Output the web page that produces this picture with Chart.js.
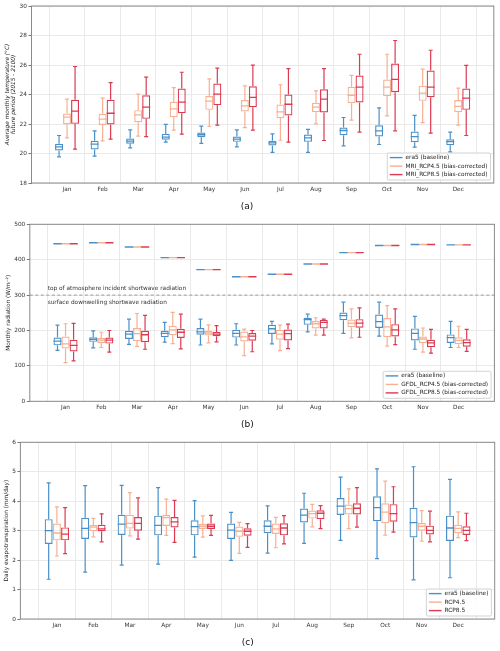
<!DOCTYPE html>
<html>
<head>
<meta charset="utf-8">
<script src="https://cdn.jsdelivr.net/npm/chart.js@4/dist/chart.umd.min.js"></script>
<style>
html,body{margin:0;padding:0;background:#fff;width:500px;height:651px;overflow:hidden;}
canvas{position:absolute;left:0;}
</style>
</head>
<body>
<canvas id="ca" width="500" height="215" style="top:0px"></canvas>
<canvas id="cb" width="500" height="220" style="top:215px"></canvas>
<canvas id="cc" width="500" height="216" style="top:435px"></canvas>
<script>
// ---------------- DATA ----------------
const months = ['Jan','Feb','Mar','Apr','May','Jun','Jul','Aug','Sep','Oct','Nov','Dec'];
// each entry: [lower whisker, Q1, median, Q3, upper whisker]

// (a) average monthly temperature (°C)
const tempEra5 = [
  [19.77,20.20,20.45,20.66,21.22],[19.82,20.27,20.63,20.86,21.54],[20.38,20.66,20.84,21.02,21.60],
  [20.77,20.93,21.11,21.33,21.97],[20.68,21.11,21.27,21.42,21.85],[20.45,20.79,20.97,21.15,21.60],
  [20.07,20.54,20.72,20.86,21.33],[20.07,20.79,21.06,21.29,21.63],[20.52,21.24,21.56,21.76,22.44],
  [20.61,21.15,21.54,21.92,23.10],[20.43,20.77,21.15,21.49,22.58],[20.11,20.56,20.81,20.97,21.45]];
const tempMriRcp45 = [
  [21.06,21.99,22.46,22.71,23.68],[20.86,21.94,22.33,22.69,23.75],[21.18,22.12,22.62,22.94,24.02],
  [21.58,22.46,23.03,23.50,24.47],[21.83,22.96,23.55,23.90,25.06],[21.76,22.85,23.23,23.62,24.59],
  [20.90,22.40,22.82,23.32,24.66],[22.01,22.80,23.14,23.43,24.25],[22.26,23.41,23.95,24.52,25.29],
  [22.55,23.89,24.50,25.02,26.73],[22.10,23.57,24.09,24.59,25.72],[21.92,22.80,23.19,23.62,24.43]];
const tempMriRcp85 = [
  [20.29,22.01,22.87,23.64,25.90],[20.97,21.97,22.73,23.64,24.81],[21.15,22.35,23.14,23.95,25.18],
  [21.31,22.73,23.48,24.41,25.51],[21.92,23.28,24.02,24.75,25.79],[21.58,23.14,23.80,24.56,25.99],
  [20.77,22.58,23.34,24.00,25.76],[20.88,22.78,23.68,24.36,25.76],[21.45,23.46,24.50,25.29,26.73],
  [21.54,24.16,25.02,26.10,27.66],[21.38,23.82,24.50,25.63,27.00],[21.22,22.96,23.75,24.41,25.97]];
const tempTicks = [18,20,22,24,26,28,30];

// (b) monthly radiation (W/m^-2)
const radEra5 = [
  [144,158,170,180,215],[151,168,175,181,199],[161,176,190,199,232],[167,181,192,199,223],
  [159,188,196,207,232],[159,180,192,202,219],[162,190,205,216,226],[196,216,231,236,246],
  [192,229,242,251,280],[184,207,225,245,280],[147,172,192,206,240],[152,165,180,189,226]];
const radGfdlRcp45 = [
  [109,149,162,183,219],[152,165,173,179,195],[155,170,191,207,248],[163,187,202,213,251],
  [165,186,193,199,216],[129,169,182,197,204],[143,174,190,202,215],[187,206,219,227,236],
  [179,209,221,231,261],[156,181,210,235,270],[139,164,176,183,207],[152,161,172,181,212]];
const radGfdlRcp85 = [
  [114,141,158,174,220],[139,163,173,180,200],[147,167,188,199,243],[148,179,195,205,246],
  [168,184,190,196,214],[140,171,184,193,200],[149,172,191,203,218],[187,206,223,230,232],
  [181,208,221,232,264],[160,183,202,218,261],[136,153,165,174,203],[141,154,166,175,203]];
const toaRadiation = [445,448,436,406,372,352,359,388,420,440,443,442];
const radSplitLevel = 300;
const radTicks = [0,100,200,300,400,500];

// (c) daily evapotranspiration (mm/day)
const etEra5 = [
  [1.35,2.55,3.00,3.39,4.62],[1.59,2.72,3.08,3.44,4.53],[1.83,2.85,3.22,3.54,4.54],
  [1.86,2.84,3.18,3.51,4.46],[2.10,2.84,3.14,3.35,4.02],[1.99,2.72,3.02,3.24,3.62],
  [2.24,2.91,3.15,3.35,3.84],[2.57,3.28,3.53,3.75,4.27],[2.67,3.53,3.83,4.11,4.82],
  [2.05,3.32,3.78,4.17,5.10],[1.33,2.77,3.27,3.78,5.17],[1.40,2.65,3.09,3.51,4.74]];
const etRcp45 = [
  [2.14,2.67,2.92,3.24,3.81],[2.79,2.98,3.12,3.19,3.42],[2.82,3.07,3.25,3.54,4.29],
  [2.84,3.16,3.44,3.53,4.07],[2.78,3.06,3.15,3.23,3.50],[2.23,2.79,2.98,3.14,3.28],
  [2.42,2.89,3.06,3.24,3.45],[3.13,3.41,3.58,3.68,3.89],[3.07,3.55,3.75,3.89,4.42],
  [2.85,3.25,3.63,3.93,4.68],[2.64,3.00,3.15,3.26,3.68],[2.76,2.91,3.08,3.20,3.64]];
const etRcp85 = [
  [2.22,2.67,2.88,3.11,3.78],[2.62,2.98,3.06,3.20,3.57],[2.71,3.00,3.25,3.46,4.11],
  [2.60,3.11,3.30,3.46,4.03],[2.84,3.06,3.15,3.24,3.52],[2.43,2.83,2.98,3.08,3.24],
  [2.55,2.84,3.09,3.25,3.51],[3.07,3.39,3.59,3.69,3.85],[3.12,3.55,3.76,3.93,4.46],
  [2.95,3.30,3.58,3.90,4.49],[2.62,2.87,3.01,3.17,3.66],[2.66,2.85,3.01,3.15,3.59]];
const etTicks = [0,1,2,3,4,5,6];

// ---------------- STYLE ----------------
const FONT = '"DejaVu Sans", "Liberation Sans", sans-serif';
const COLORS = ['#4a90c8', '#f7b091', '#dc3a52'];
const OFFSETS = [-0.225, 0, 0.225];
const X_MIN = 0, X_MAX = 13;
const xTickValues = [];
for (let v = X_MIN; v <= X_MAX + 1e-9; v += 0.5) xTickValues.push(Math.round(v * 2) / 2);

function boxDatasets(stats, color, off) {
  const pos = i => i + 1 + off;
  const common = {grouped: false, inflateAmount: 0};
  return [
    Object.assign({type: 'bar', data: stats.map((s, i) => ({x: pos(i), y: [s[0], s[1]]})),
      backgroundColor: color, borderWidth: 0, barThickness: 1.2}, common),
    Object.assign({type: 'bar', data: stats.map((s, i) => ({x: pos(i), y: [s[3], s[4]]})),
      backgroundColor: color, borderWidth: 0, barThickness: 1.2}, common),
    Object.assign({type: 'bar', data: stats.map((s, i) => ({x: pos(i), y: [s[1], s[3]]})),
      backgroundColor: 'rgba(0,0,0,0)', borderColor: color, borderWidth: 1.2,
      borderSkipped: false, barThickness: 8}, common),
    {type: 'scatter', data: stats.map((s, i) => ({x: pos(i), y: s[2]})),
      pointStyle: 'line', pointRadius: 4, pointBorderWidth: 1.3, pointBorderColor: color, borderColor: color},
    {type: 'scatter', data: stats.flatMap((s, i) => [{x: pos(i), y: s[0]}, {x: pos(i), y: s[4]}]),
      pointStyle: 'line', pointRadius: 2, pointBorderWidth: 1.2, pointBorderColor: color, borderColor: color}
  ];
}

function panelPlugin(p) {
  return {
    id: 'panelExtras',
    afterDraw(chart) {
      const ctx = chart.ctx, ca = chart.chartArea;
      ctx.save();
      // frame
      ctx.strokeStyle = '#8a8a8a';
      ctx.lineWidth = 1;
      ctx.strokeRect(ca.left, ca.top, ca.right - ca.left, ca.bottom - ca.top);
      // annotation texts
      if (p.notes) {
        const ys = chart.scales.y.getPixelForValue(p.notes.level);
        const xs = chart.scales.x.getPixelForValue(0.5);
        ctx.fillStyle = '#333';
        ctx.font = '5.8px ' + FONT;
        ctx.textBaseline = 'middle';
        ctx.textAlign = 'left';
        ctx.fillText(p.notes.above, xs, ys - 7.1);
        ctx.fillText(p.notes.below, xs, ys + 7.2);
      }
      // legend
      ctx.font = '5.8px ' + FONT;
      const tw = Math.max(...p.legend.map(t => ctx.measureText(t).width));
      const w = 2.5 + 12.7 + 3 + tw + 3, h = 27;
      const x = ca.right - 3.3 - w, y = ca.bottom - 3 - h;
      ctx.beginPath();
      ctx.roundRect(x, y, w, h, 1.5);
      ctx.fillStyle = 'rgba(255,255,255,0.85)';
      ctx.fill();
      ctx.strokeStyle = '#c8c8c8';
      ctx.lineWidth = 0.8;
      ctx.stroke();
      p.legend.forEach((label, k) => {
        const cy = y + 4.6 + k * 8.5;
        ctx.beginPath();
        ctx.moveTo(x + 2.5, cy);
        ctx.lineTo(x + 15.2, cy);
        ctx.strokeStyle = COLORS[k];
        ctx.lineWidth = 1.4;
        ctx.stroke();
        ctx.fillStyle = '#222';
        ctx.textBaseline = 'middle';
        ctx.textAlign = 'left';
        ctx.fillText(label, x + 18.2, cy);
      });
      ctx.restore();
    }
  };
}

function makePanel(id, p) {
  let datasets = [];
  p.series.forEach((s, k) => { datasets = datasets.concat(boxDatasets(s, COLORS[k], OFFSETS[k])); });
  if (p.toa) {
    p.toa.forEach((vals, k) => {
      datasets.push({type: 'scatter', data: vals.map((v, i) => ({x: i + 1 + OFFSETS[k], y: v})),
        pointStyle: 'line', pointRadius: 4.2, pointBorderWidth: 1.4, pointBorderColor: COLORS[k], borderColor: COLORS[k]});
    });
  }
  if (p.notes) {
    datasets.push({type: 'line', data: [{x: X_MIN, y: p.notes.level}, {x: X_MAX, y: p.notes.level}],
      borderColor: '#9a9a9a', borderWidth: 1, borderDash: [3, 2.5], pointRadius: 0, fill: false});
  }
  new Chart(document.getElementById(id), {
    type: 'bar',
    data: {datasets},
    options: {
      responsive: false, animation: false, events: [],
      layout: {padding: {left: 0, right: p.padRight, top: p.padTop, bottom: 0}},
      plugins: {
        legend: {display: false}, tooltip: {enabled: false},
        title: {display: true, position: 'bottom', text: p.caption, color: '#111',
          font: {family: FONT, size: 9, weight: 'normal', lineHeight: 1.2},
          padding: {top: 0, bottom: p.capPad}}
      },
      scales: {
        x: {
          type: 'linear', min: X_MIN, max: X_MAX, offset: false,
          afterBuildTicks: s => { s.ticks = xTickValues.map(v => ({value: v})); },
          afterFit: s => { s.height = p.xHeight; },
          grid: {offset: false, drawTicks: false, lineWidth: 1,
            color: c => (c.tick && Number.isInteger(c.tick.value)) ? 'rgba(0,0,0,0)' : '#e9e9e9'},
          border: {display: false},
          ticks: {autoSkip: false, maxRotation: 0, minRotation: 0, padding: 3, color: '#333',
            font: {family: FONT, size: 5.8},
            callback: v => (Number.isInteger(v) && v >= 1 && v <= 12) ? months[v - 1] : ''}
        },
        y: {
          type: 'linear', min: p.yTicks[0], max: p.yTicks[p.yTicks.length - 1],
          afterBuildTicks: s => { s.ticks = p.yTicks.map(v => ({value: v})); },
          afterFit: s => { s.width = p.left; },
          grid: {color: '#e9e9e9', lineWidth: 1, drawTicks: true, tickLength: 3, tickColor: '#777'},
          border: {display: false},
          ticks: {padding: 1.5, color: '#333', font: {family: FONT, size: 5.8}},
          title: {display: true, text: p.yTitle, color: '#222',
            font: {family: FONT, size: 5.8, style: p.italic ? 'italic' : 'normal', lineHeight: 1.05},
            padding: {top: p.titlePad, bottom: 0}}
        }
      }
    },
    plugins: [panelPlugin(p)]
  });
}

makePanel('ca', {
  series: [tempEra5, tempMriRcp45, tempMriRcp85], yTicks: tempTicks,
  yTitle: ['Average monthly temperature (°C)', 'future period (2015 - 2100)'], italic: true,
  caption: '(a)', left: 31.5, padRight: 6.2, padTop: 6, xHeight: 18.2, capPad: 3, titlePad: 4.2,
  legend: ['era5 (baseline)', 'MRI_RCP4.5 (bias-corrected)', 'MRI_RCP8.5 (bias-corrected)']
});
makePanel('cb', {
  series: [radEra5, radGfdlRcp45, radGfdlRcp85], yTicks: radTicks,
  toa: [toaRadiation, toaRadiation, toaRadiation],
  notes: {level: radSplitLevel, above: 'top of atmosphere incident shortwave radiation',
          below: 'surface downwelling shortwave radiation'},
  yTitle: 'Monthly radiation (W/m⁻²)', italic: false,
  caption: '(b)', left: 29.8, padRight: 5.4, padTop: 9.3, xHeight: 17.6, capPad: 5.3, titlePad: 5.2,
  legend: ['era5 (baseline)', 'GFDL_RCP4.5 (bias-corrected)', 'GFDL_RCP8.5 (bias-corrected)']
});
makePanel('cc', {
  series: [etEra5, etRcp45, etRcp85], yTicks: etTicks,
  yTitle: 'Daily evapotranspiration (mm/day)', italic: false,
  caption: '(c)', left: 20.4, padRight: 4.4, padTop: 7.3, xHeight: 17.9, capPad: 3.3, titlePad: 3.2,
  legend: ['era5 (baseline)', 'RCP4.5', 'RCP8.5']
});
</script>
</body>
</html>
